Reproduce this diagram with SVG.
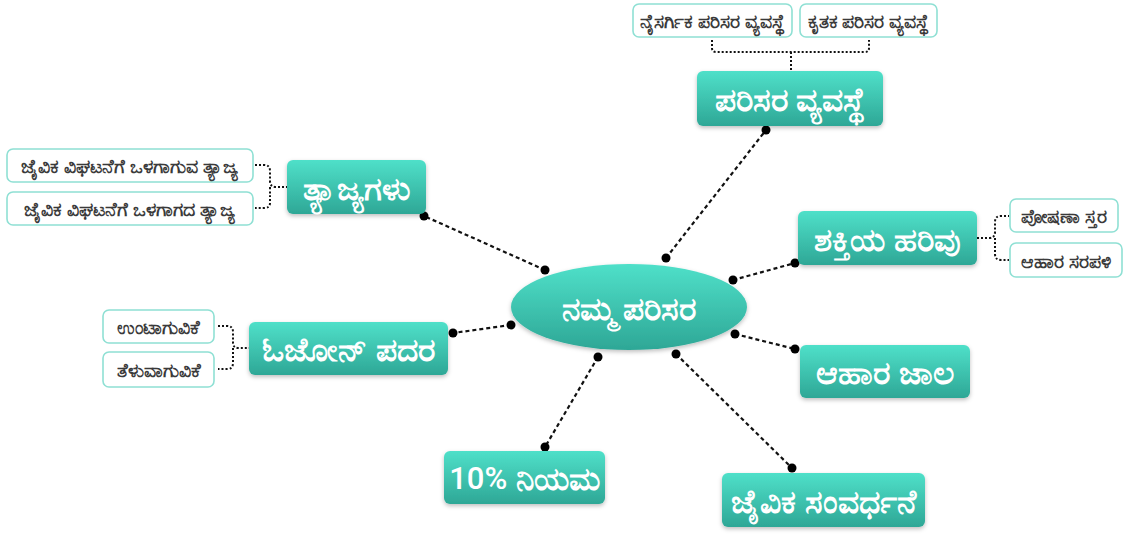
<svg xmlns="http://www.w3.org/2000/svg" width="1126" height="534" viewBox="0 0 1126 534">
  <style>
    .node { fill: url(#tealGrad); filter: url(#shadow); }
    .main { font-family: "Noto Sans", "Liberation Sans", sans-serif; font-size: 33px; font-weight: bold; fill: #ffffff; text-anchor: middle; dominant-baseline: central; }
    .num { font-family: Roboto, "Noto Sans", sans-serif; font-weight: 500; font-size: 31px; }
    .sub { fill: #ffffff; stroke: #8fe0d4; stroke-width: 1.6; }
    .subText { font-family: "Noto Sans", "Liberation Sans", sans-serif; font-size: 18.5px; font-weight: 600; fill: #3a3a3a; text-anchor: middle; dominant-baseline: central; }
    .link { fill: none; stroke: #111111; stroke-width: 2.2; stroke-dasharray: 4 3; }
    .brace { fill: none; stroke: #111111; stroke-width: 2; stroke-dasharray: 2 2; }
    .dot { fill: #000000; }
  </style>
  <defs>
    <linearGradient id="tealGrad" x1="0" y1="0" x2="0" y2="1">
      <stop offset="0" stop-color="#4fe0c9"/>
      <stop offset="1" stop-color="#2ea796"/>
    </linearGradient>
    <filter id="shadow" x="-10%" y="-10%" width="120%" height="130%">
      <feDropShadow dx="0" dy="2" stdDeviation="2" flood-color="#000000" flood-opacity="0.25"/>
    </filter>
  </defs>
  <rect width="1126" height="534" fill="#ffffff"/>

  <!-- connectors -->
  <g id="connectors">
    <line class="link" x1="666" y1="258" x2="766" y2="130"/>
    <line class="link" x1="545" y1="270" x2="424" y2="216"/>
    <line class="link" x1="733" y1="280" x2="795" y2="263"/>
    <line class="link" x1="511" y1="325" x2="453" y2="333"/>
    <line class="link" x1="735" y1="334" x2="795" y2="349"/>
    <line class="link" x1="676" y1="354" x2="792" y2="468"/>
    <line class="link" x1="598" y1="357" x2="545" y2="447"/>
    <g class="dots">
      <circle class="dot" cx="666" cy="258" r="4.5"/><circle class="dot" cx="766" cy="130" r="4.5"/>
      <circle class="dot" cx="545" cy="270" r="4.5"/><circle class="dot" cx="424" cy="216" r="4.5"/>
      <circle class="dot" cx="733" cy="280" r="4.5"/><circle class="dot" cx="795" cy="263" r="4.5"/>
      <circle class="dot" cx="511" cy="325" r="4.5"/><circle class="dot" cx="453" cy="333" r="4.5"/>
      <circle class="dot" cx="735" cy="334" r="4.5"/><circle class="dot" cx="795" cy="349" r="4.5"/>
      <circle class="dot" cx="676" cy="354" r="4.5"/><circle class="dot" cx="792" cy="468" r="4.5"/>
      <circle class="dot" cx="598" cy="357" r="4.5"/><circle class="dot" cx="545" cy="447" r="4.5"/>
    </g>
    <!-- braces to sub-items -->
    <path class="brace" d="M712 40 V48 Q712 52 716 52 H865 Q869 52 869 48 V40 M791 52 V71"/>
    <path class="brace" d="M255 165 H264 Q270 165 270 171 V181 Q270 187 276 187 H287 M270 187 Q270 193 270 197 V203 Q270 208 264 208 H255"/>
    <path class="brace" d="M977 238 H989 Q995 238 995 232 V222 Q995 216 1001 216 H1009 M995 238 V254 Q995 260 1001 260 H1009"/>
    <path class="brace" d="M218 326 H227 Q233 326 233 332 V343 Q233 348 239 348 H249 M233 348 V363 Q233 369 227 369 H218"/>
  </g>

  <g id="center">
    <ellipse cx="629" cy="307" rx="118" ry="43" fill="url(#tealGrad)" filter="url(#shadow)"/>
    <text class="main" x="629" y="307">ನಮ್ಮ ಪರಿಸರ</text>
  </g>

  <g id="node-ecosystem">
    <rect class="node" x="697" y="71" width="186" height="55" rx="6"/>
    <text class="main" x="790" y="98">ಪರಿಸರ ವ್ಯವಸ್ಥೆ</text>
  </g>
  <g id="sub-natural">
    <rect class="sub" x="633" y="4" width="159" height="33" rx="6"/>
    <text class="subText" x="712.5" y="20.5">ನೈಸರ್ಗಿಕ ಪರಿಸರ ವ್ಯವಸ್ಥೆ</text>
  </g>
  <g id="sub-artificial">
    <rect class="sub" x="800" y="4" width="137" height="33" rx="6"/>
    <text class="subText" x="868.5" y="20.5">ಕೃತಕ ಪರಿಸರ ವ್ಯವಸ್ಥೆ</text>
  </g>

  <g id="node-waste">
    <rect class="node" x="287" y="160" width="139" height="54" rx="6"/>
    <text class="main" x="356.5" y="187">ತ್ಯಾಜ್ಯಗಳು</text>
  </g>
  <g id="sub-biodegradable">
    <rect class="sub" x="7" y="149" width="246" height="33" rx="6"/>
    <text class="subText" x="130" y="165.5">ಜೈವಿಕ ವಿಘಟನೆಗೆ ಒಳಗಾಗುವ ತ್ಯಾಜ್ಯ</text>
  </g>
  <g id="sub-nonbiodegradable">
    <rect class="sub" x="7" y="192" width="246" height="33" rx="6"/>
    <text class="subText" x="130" y="208.5">ಜೈವಿಕ ವಿಘಟನೆಗೆ ಒಳಗಾಗದ ತ್ಯಾಜ್ಯ</text>
  </g>

  <g id="node-energy">
    <rect class="node" x="798" y="211" width="179" height="54" rx="6"/>
    <text class="main" x="887.5" y="238">ಶಕ್ತಿಯ ಹರಿವು</text>
  </g>
  <g id="sub-trophic">
    <rect class="sub" x="1010" y="199" width="108" height="33" rx="6"/>
    <text class="subText" x="1064" y="215.5">ಪೋಷಣಾ ಸ್ತರ</text>
  </g>
  <g id="sub-foodchain">
    <rect class="sub" x="1010" y="243" width="112" height="34" rx="6"/>
    <text class="subText" x="1066" y="260">ಆಹಾರ ಸರಪಳಿ</text>
  </g>

  <g id="node-ozone">
    <rect class="node" x="249" y="322" width="199" height="53" rx="6"/>
    <text class="main" x="348.5" y="348.5">ಓಜೋನ್ ಪದರ</text>
  </g>
  <g id="sub-formation">
    <rect class="sub" x="103" y="310" width="111" height="33" rx="6"/>
    <text class="subText" x="158.5" y="326.5">ಉಂಟಾಗುವಿಕೆ</text>
  </g>
  <g id="sub-depletion">
    <rect class="sub" x="103" y="352" width="111" height="35" rx="6"/>
    <text class="subText" x="158.5" y="369.5">ತೆಳುವಾಗುವಿಕೆ</text>
  </g>

  <g id="node-foodweb">
    <rect class="node" x="800" y="345" width="170" height="53" rx="6"/>
    <text class="main" x="885" y="371.5">ಆಹಾರ ಜಾಲ</text>
  </g>

  <g id="node-biomagnification">
    <rect class="node" x="722" y="473" width="203" height="54" rx="6"/>
    <text class="main" x="823.5" y="500">ಜೈವಿಕ ಸಂವರ್ಧನೆ</text>
  </g>

  <g id="node-tenpercent">
    <rect class="node" x="444" y="451" width="161" height="53" rx="6"/>
    <text class="main" x="524.5" y="477.5"><tspan class="num">10%</tspan> ನಿಯಮ</text>
  </g>
</svg>
